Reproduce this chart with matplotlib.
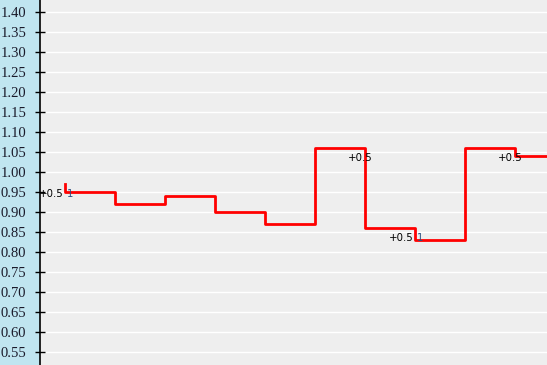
import matplotlib
matplotlib.use('Agg')
import matplotlib.pyplot as plt

# step points (drawn with 'pre' steps)
steps = [0, 1, 2, 3, 4, 5, 6, 7, 8, 9, 10]
values = [0.97, 0.95, 0.92, 0.94, 0.90, 0.87, 1.06, 0.86, 0.83, 1.06, 1.04]

# point labels
label_idx = [0, 6, 7, 9]
label_main = ['+0.5', '+0.5', '+0.5', '+0.5']
label_extra = ['1', '', '1', '']

yticks = [0.55, 0.60, 0.65, 0.70, 0.75, 0.80, 0.85, 0.90, 0.95,
          1.00, 1.05, 1.10, 1.15, 1.20, 1.25, 1.30, 1.35, 1.40]

fig = plt.figure(figsize=(5.47, 3.65), dpi=100)
fig.patch.set_facecolor('#c0e5f0')
ax = fig.add_axes([39.5 / 547, 0, 1 - 39.5 / 547, 1])
ax.set_facecolor('#eeeeee')

ax.step(steps, values, where='pre', color='red', linewidth=2, zorder=3)

for i, main, extra in zip(label_idx, label_main, label_extra):
    if extra:
        ax.annotate(main, (steps[i], values[i]), xytext=(-1, -7), textcoords='offset points',
                    ha='right', va='center', fontsize=7.3, family='DejaVu Sans', zorder=4)
        ax.annotate(extra, (steps[i], values[i]), xytext=(1, -7), textcoords='offset points',
                    ha='left', va='center', fontsize=7.3, family='DejaVu Sans',
                    color='#2a4f80', zorder=4)
    else:
        ax.annotate(main, (steps[i], values[i]), xytext=(-3.5, -7), textcoords='offset points',
                    ha='center', va='center', fontsize=7.3, family='DejaVu Sans', zorder=4)

ax.set_xlim(-0.52, 9.64)
ax.set_ylim(0.5175, 1.43)
ax.set_yticks(yticks)
ax.set_yticklabels(['%.2f' % t for t in yticks], fontsize=10.5, family='Liberation Serif',
                   color='#1a1a2a')
ax.yaxis.grid(True, color='white', linewidth=1)
ax.set_axisbelow(True)
ax.set_xticks([])
ax.tick_params(axis='y', direction='inout', length=7, width=1, pad=6)

for side in ['top', 'right', 'bottom']:
    ax.spines[side].set_visible(False)
ax.spines['left'].set_color('black')
ax.spines['left'].set_linewidth(1.2)

plt.savefig('out.png', dpi=100, facecolor=fig.get_facecolor())
